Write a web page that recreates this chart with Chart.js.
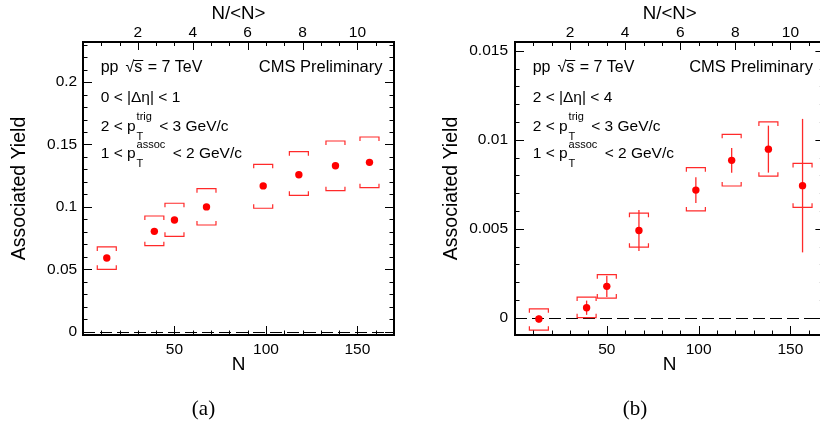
<!DOCTYPE html>
<html>
<head>
<meta charset="utf-8">
<script src="https://cdn.jsdelivr.net/npm/chart.js@4"></script>
<style>
html, body { margin: 0; padding: 0; width: 820px; height: 428px; overflow: hidden; background: #fff; }
#wrap { position: absolute; left: 0; top: 0; width: 820px; height: 428px; overflow: hidden; }
#ca { position: absolute; left: 0; top: 0; }
#cb { position: absolute; left: 410px; top: 0; }
</style>
</head>
<body>
<div id="wrap">
  <canvas id="ca" width="410" height="428"></canvas>
  <canvas id="cb" width="420" height="428"></canvas>
</div>
<script>
// ---------------- data ----------------
const multiplicity = [13, 39, 50, 67.5, 98.5, 118, 138, 156.6];
const meanMultiplicity = 15;

const nearYield   = [0.059, 0.0804, 0.0895, 0.100, 0.1168, 0.1258, 0.133, 0.1357];
const nearSysLow  = [0.050, 0.0689, 0.0764, 0.0855, 0.0989, 0.1093, 0.113, 0.1154];
const nearSysHigh = [0.0679, 0.0927, 0.1029, 0.1146, 0.1341, 0.1442, 0.1528, 0.156];
const nearStat    = [0.0012, 0.0012, 0.0012, 0.0013, 0.0015, 0.0016, 0.0018, 0.002];

const farYield    = [-0.00007, 0.00056, 0.00176, 0.0049, 0.00717, 0.00884, 0.00947, 0.00742];
const farSysLow   = [-0.0007, 0.0000, 0.0011, 0.00396, 0.0060, 0.0074, 0.00795, 0.0062];
const farSysHigh  = [0.0005, 0.00116, 0.00242, 0.00587, 0.00843, 0.0103, 0.011, 0.00867];
const farStat     = [0.0002, 0.0004, 0.0006, 0.00115, 0.00072, 0.0007, 0.00132, 0.00375];

const nearYTicks = [0, 0.05, 0.1, 0.15, 0.2];
const farYTicks  = [0, 0.005, 0.01, 0.015];
const nTicks     = [50, 100, 150];
const ratioTicks = [2, 4, 6, 8, 10];

const yTitle = 'Associated Yield';
const xTitle = 'N';
const topTitle = 'N/<N>';
const nearEtaText = '0 < |Δη| < 1';
const farEtaText  = '2 < |Δη| < 4';
// ---------------------------------------

const FONT = '"Liberation Sans", Arial, Helvetica, sans-serif';
const RED = '#ff0000';
function fmt(v) { return String(parseFloat(Number(v).toFixed(6))); }
function crisp(v) { return Math.round(v) + 0.5; }

function panelPlugin(p) {
  return {
    id: 'panel' + p.id,
    beforeDatasetsDraw(chart) {
      const { ctx, chartArea: a, scales } = chart;
      const x = scales.x, y = scales.y;
      ctx.save();
      // zero line
      const y0 = crisp(y.getPixelForValue(0));
      ctx.strokeStyle = '#000';
      ctx.lineWidth = 1;
      ctx.setLineDash([12, 5]);
      ctx.beginPath();
      ctx.moveTo(a.left, y0);
      ctx.lineTo(a.right, y0);
      ctx.stroke();
      ctx.setLineDash([]);
      // statistical bars
      ctx.strokeStyle = '#ff2a2a';
      ctx.lineWidth = 1.3;
      multiplicity.forEach((n, i) => {
        const px = x.getPixelForValue(n);
        const v = p.values[i], e = p.stat[i];
        ctx.beginPath();
        ctx.moveTo(px, y.getPixelForValue(v + e));
        ctx.lineTo(px, y.getPixelForValue(v - e));
        ctx.stroke();
      });
      // systematic brackets
      ctx.strokeStyle = '#ff2a2a';
      ctx.lineWidth = 1.2;
      const hw = 9.5, t = 4;
      multiplicity.forEach((n, i) => {
        const px = x.getPixelForValue(n);
        const yt = y.getPixelForValue(p.sysHigh[i]);
        const yb = y.getPixelForValue(p.sysLow[i]);
        ctx.beginPath();
        ctx.moveTo(px - hw, yt + t); ctx.lineTo(px - hw, yt); ctx.lineTo(px + hw, yt); ctx.lineTo(px + hw, yt + t);
        ctx.moveTo(px - hw, yb - t); ctx.lineTo(px - hw, yb); ctx.lineTo(px + hw, yb); ctx.lineTo(px + hw, yb - t);
        ctx.stroke();
      });
      ctx.restore();
    },
    afterDraw(chart) {
      const { ctx, chartArea: a, scales } = chart;
      const x = scales.x, y = scales.y, top = scales.top;
      ctx.save();
      ctx.strokeStyle = '#000';
      ctx.lineWidth = 1;
      // y ticks (left and right)
      const yTick = (v, len) => {
        const py = crisp(y.getPixelForValue(v));
        ctx.beginPath();
        ctx.moveTo(a.left, py); ctx.lineTo(a.left + len, py);
        ctx.moveTo(a.right, py); ctx.lineTo(a.right - len, py);
        ctx.stroke();
      };
      const ymStart = Math.ceil(y.min / p.yMinor - 1e-9);
      const ymEnd = Math.floor(y.max / p.yMinor + 1e-9);
      for (let k = ymStart; k <= ymEnd; k++) yTick(k * p.yMinor, 4.5);
      p.yTicks.forEach(v => yTick(v, 9));
      // bottom ticks
      const xTick = (scale, v, len, edge, dir) => {
        const px = crisp(scale.getPixelForValue(v));
        ctx.beginPath();
        ctx.moveTo(px, edge); ctx.lineTo(px, edge + dir * len);
        ctx.stroke();
      };
      for (let k = 10; k < x.max; k += 10) xTick(x, k, 4.5, a.bottom, -1);
      nTicks.forEach(v => xTick(x, v, 9, a.bottom, -1));
      // top ticks
      const topMinor = 2 / 3;
      for (let k = 1; k * topMinor < top.max; k++) xTick(top, k * topMinor, 4, a.top, 1);
      ratioTicks.forEach(v => xTick(top, v, 8, a.top, 1));
      // frame
      ctx.lineWidth = 2;
      ctx.strokeRect(a.left, a.top, a.right - a.left, a.bottom - a.top);

      // annotations
      ctx.fillStyle = '#000';
      ctx.textAlign = 'left';
      ctx.textBaseline = 'alphabetic';
      const L = a.left + 17.7;
      const main = `15.5px ${FONT}`;
      ctx.font = main;
      // line 1: pp sqrt(s) = 7 TeV
      let xx = L;
      const b1 = 71.5;
      ctx.font = `16px ${FONT}`;
      ctx.fillText('pp', xx, b1);
      xx += ctx.measureText('pp').width + 7;
      ctx.fillText('√', xx, b1);
      xx += ctx.measureText('√').width;
      ctx.fillText('s', xx, b1);
      const sw = ctx.measureText('s').width;
      ctx.lineWidth = 1;
      ctx.beginPath();
      ctx.moveTo(xx - 0.5, 60.5); ctx.lineTo(xx + sw + 1, 60.5);
      ctx.stroke();
      xx += sw + 1;
      ctx.fillText(' = 7 TeV', xx, b1);
      // CMS Preliminary
      ctx.font = `16.5px ${FONT}`;
      ctx.textAlign = 'right';
      ctx.fillText('CMS Preliminary', a.right - 11.5, b1);
      ctx.textAlign = 'left';
      ctx.font = main;
      // line 2
      ctx.fillText(p.etaText, L, 102.3);
      // lines 3, 4
      const pt = (pre, sup, post, base, supDy, subDy) => {
        ctx.font = main;
        let q = L;
        ctx.fillText(pre + 'p', q, base);
        q += ctx.measureText(pre + 'p').width + 1;
        ctx.font = `11px ${FONT}`;
        ctx.fillText(sup, q, base - supDy);
        const w1 = ctx.measureText(sup).width;
        ctx.fillText('T', q, base + subDy);
        const w2 = ctx.measureText('T').width;
        q += Math.max(w1, w2) + 3;
        ctx.font = main;
        ctx.fillText(post, q, base);
      };
      pt('2 < ', 'trig', ' < 3 GeV/c', 131, 11.5, 8.8);
      pt('1 < ', 'assoc', ' < 2 GeV/c', 158.3, 10.5, 8.4);
      // caption
      ctx.font = '21px "Liberation Serif", "Times New Roman", serif';
      ctx.textAlign = 'center';
      ctx.fillText(p.caption, p.captionX, 415);
      ctx.restore();
    }
  };
}

function buildPanel(canvasId, p) {
  const points = multiplicity.map((n, i) => ({ x: n, y: p.values[i] }));
  const tickFont = { family: FONT, size: 15.5 };
  const noGrid = { display: false, drawTicks: false, tickLength: 0 };
  return new Chart(document.getElementById(canvasId), {
    type: 'scatter',
    data: {
      datasets: [{
        data: points,
        pointRadius: 3.7,
        pointHoverRadius: 3.7,
        pointBackgroundColor: RED,
        pointBorderColor: RED,
        pointBorderWidth: 0,
        showLine: false
      }]
    },
    options: {
      responsive: false,
      animation: false,
      devicePixelRatio: 1,
      events: [],
      layout: { padding: { left: 0, top: 0, bottom: 0, right: p.padRight } },
      plugins: { legend: { display: false }, tooltip: { enabled: false } },
      scales: {
        x: {
          type: 'linear', axis: 'x', position: 'bottom', min: 0, max: p.xMax,
          afterFit(s) { s.height = 93; },
          afterBuildTicks(s) { s.ticks = nTicks.map(v => ({ value: v })); },
          grid: noGrid, border: { display: false },
          ticks: { color: '#000', font: tickFont, padding: 5.2, maxRotation: 0, autoSkip: false, callback: v => fmt(v) },
          title: { display: true, text: xTitle, color: '#000', font: { family: FONT, size: 19 }, padding: { top: 0, bottom: 51.6 } }
        },
        top: {
          type: 'linear', axis: 'x', position: 'top', min: 0, max: p.xMax / meanMultiplicity,
          afterFit(s) { s.height = 42; },
          afterBuildTicks(s) { s.ticks = ratioTicks.map(v => ({ value: v })); },
          grid: noGrid, border: { display: false },
          ticks: { color: '#000', font: tickFont, padding: 0, maxRotation: 0, autoSkip: false, callback: v => fmt(v) },
          title: { display: true, text: topTitle, color: '#000', font: { family: FONT, size: 18.7 }, padding: { top: 2.8, bottom: 0 } }
        },
        y: {
          type: 'linear', axis: 'y', position: 'left', min: p.yMin, max: p.yMax,
          afterFit(s) { s.width = p.leftW; },
          afterBuildTicks(s) { s.ticks = p.yTicks.map(v => ({ value: v })); },
          grid: noGrid, border: { display: false },
          ticks: { color: '#000', font: tickFont, padding: p.yTickPad, autoSkip: false, callback: v => fmt(v) },
          title: { display: true, text: yTitle, color: '#000', font: { family: FONT, size: 19.5 }, padding: { top: p.yTitlePad, bottom: 0 } }
        }
      }
    },
    plugins: [panelPlugin(p)]
  });
}

buildPanel('ca', {
  id: 'a', values: nearYield, sysLow: nearSysLow, sysHigh: nearSysHigh, stat: nearStat,
  yMin: -0.00264, yMax: 0.2321, yTicks: nearYTicks, yMinor: 0.01,
  xMax: 170, leftW: 83, padRight: 16, yTickPad: 5.8, yTitlePad: 7.7,
  etaText: nearEtaText, caption: '(a)', captionX: 203.5
});

buildPanel('cb', {
  id: 'b', values: farYield, sysLow: farSysLow, sysHigh: farSysHigh, stat: farStat,
  yMin: -0.000972, yMax: 0.01549, yTicks: farYTicks, yMinor: 0.001,
  xMax: 168.5, leftW: 105, padRight: 5.6, yTickPad: 7, yTitlePad: 29.7,
  etaText: farEtaText, caption: '(b)', captionX: 225
});
</script>
</body>
</html>
